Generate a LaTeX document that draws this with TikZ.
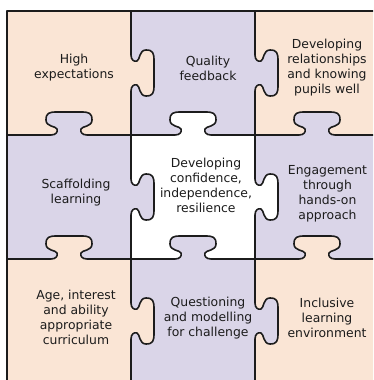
\documentclass[tikz,border=0pt]{standalone}
\usepackage{fontspec}
\setmainfont{DejaVu Sans}
\usepackage{xcolor}
\definecolor{peach}{HTML}{FAE5D5}
\definecolor{lavender}{HTML}{DAD5E8}
\definecolor{ink}{HTML}{1C1C1C}
\tikzstyle{seam} = [draw=ink,line width=1.6pt,line join=round]
\tikzstyle{piecetext} = [align=center,text=ink,inner sep=0pt,font=\fontsize{12.4}{15}\selectfont]
\tikzset{
pics/tab/.style={code={
	\fill[#1] (-18,0) .. controls (-13,0) and (-11,3) .. (-12,6) .. controls (-13,9) and (-23,8) .. (-23,15) .. controls (-23,22) and (-20,23) .. (-12,23) -- (12,23) .. controls (20,23) and (23,22) .. (23,15) .. controls (23,8) and (13,9) .. (12,6) .. controls (11,3) and (13,0) .. (18,0) -- cycle;
	\draw[seam] (-62,0) -- (-18,0) .. controls (-13,0) and (-11,3) .. (-12,6) .. controls (-13,9) and (-23,8) .. (-23,15) .. controls (-23,22) and (-20,23) .. (-12,23) -- (12,23) .. controls (20,23) and (23,22) .. (23,15) .. controls (23,8) and (13,9) .. (12,6) .. controls (11,3) and (13,0) .. (18,0) -- (62,0);
}}
}
\begin{document}
\begin{tikzpicture}[x=1pt,y=1pt]
\useasboundingbox (0,0) rectangle (373,380);
\clip (0,0) rectangle (373,380);
\fill[white] (0,0) rectangle (373,380);
\foreach \i/\j/\c in {0/0/peach,1/0/lavender,2/0/peach,0/1/lavender,1/1/white,2/1/lavender,0/2/peach,1/2/lavender,2/2/peach}{
	\fill[\c] (7+124*\i,369-124*\j) rectangle (131+124*\i,245-124*\j);
}
\foreach \x/\y/\c in {131/307/peach,131/183/lavender,131/59/peach,255/307/lavender,255/183/white,255/59/lavender}{
	\pic[rotate=-90] at (\x,\y) {tab=\c};
}
\foreach \x/\y/\c in {69/245/lavender,193/245/white,317/245/lavender,69/121/peach,193/121/lavender,317/121/peach}{
	\pic at (\x,\y) {tab=\c};
}
\draw[seam] (7,369) rectangle (379,-3);
\node[piecetext] (hiexp) at (74,312.5) {High\\expectations};
\node[piecetext] (quality) at (208,312) {Quality\\feedback};
\node[piecetext] (relation) at (327,312.5) {Developing\\relationships\\and knowing\\pupils well};
\node[piecetext] (scaffold) at (76,187) {Scaffolding\\learning};
\node[piecetext] (confid) at (206,195) {Developing\\confidence,\\independence,\\resilience};
\node[piecetext] (engage) at (327.5,186) {Engagement\\through\\hands-on\\approach};
\node[piecetext] (agecurr) at (76,63) {Age, interest\\and ability\\appropriate\\curriculum};
\node[piecetext] (question) at (208,62) {Questioning\\and modelling\\for challenge};
\node[piecetext] (inclus) at (327,62.5) {Inclusive\\learning\\environment};
\end{tikzpicture}
\end{document}
